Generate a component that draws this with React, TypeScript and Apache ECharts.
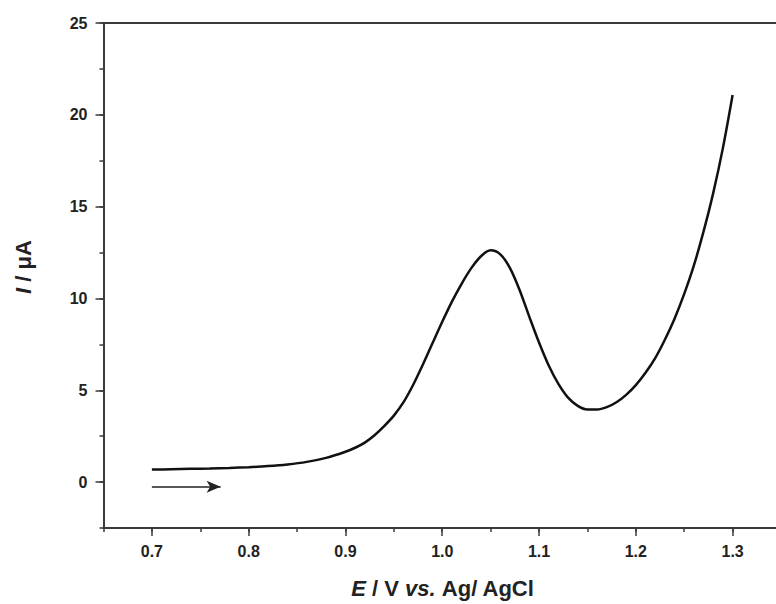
import React, { useEffect, useRef } from "react";
import * as echarts from "echarts";

const potentials = [
  0.7, 0.72, 0.74, 0.76, 0.78, 0.8, 0.82, 0.84, 0.86, 0.88, 0.9, 0.91, 0.92,
  0.93, 0.94, 0.95, 0.96, 0.97, 0.98, 0.99, 1.0, 1.01, 1.02, 1.03, 1.04, 1.05,
  1.06, 1.07, 1.08, 1.09, 1.1, 1.11, 1.12, 1.13, 1.14, 1.15, 1.16, 1.17, 1.18,
  1.19, 1.2, 1.21, 1.22, 1.23, 1.24, 1.25, 1.26, 1.27, 1.28, 1.29, 1.3,
];
const currents = [
  0.68, 0.7, 0.72, 0.74, 0.77, 0.81, 0.87, 0.96, 1.1, 1.32, 1.65, 1.87, 2.15,
  2.55, 3.05, 3.62, 4.35, 5.3, 6.4, 7.57, 8.73, 9.83, 10.8, 11.65, 12.3, 12.62,
  12.4, 11.65, 10.45, 9.0, 7.6, 6.35, 5.35, 4.6, 4.15, 3.95, 3.95, 4.08, 4.35,
  4.75, 5.28, 5.95, 6.75, 7.75, 8.9, 10.25, 11.8, 13.65, 15.75, 18.2, 21.08,
];
const xMajorTicks = [0.7, 0.8, 0.9, 1.0, 1.1, 1.2, 1.3];
const yMajorTicks = [0, 5, 10, 15, 20, 25];
const arrowStart = [0.7, -0.25];
const arrowEnd = [0.771, -0.25];

const FONT = "'Liberation Sans', Arial, sans-serif";
const AX = "#3a3a3a";
const TXT = "#222";

export default function App() {
  const ref = useRef<HTMLDivElement>(null);
  useEffect(() => {
    if (!ref.current) return;
    const chart = echarts.init(ref.current, undefined, { renderer: "svg" });
    const labelStyle = {
      fontFamily: FONT,
      fontWeight: "bold" as const,
      fontSize: 16,
      color: TXT,
    };
    chart.setOption({
      animation: false,
      backgroundColor: "#fff",
      grid: {
        left: 103.5,
        top: 23,
        right: 0,
        bottom: 76,
        show: false,
      },
      xAxis: [
        {
          type: "value",
          min: 0.65,
          max: 1.35,
          interval: 0.05,
          axisLine: { show: true, onZero: false, lineStyle: { color: AX, width: 2 } },
          axisTick: { show: true, length: 4, lineStyle: { color: AX, width: 1.5 } },
          axisLabel: { show: false },
          splitLine: { show: false },
        },
        {
          type: "value",
          position: "bottom",
          min: 0.65,
          max: 1.35,
          axisLine: { show: false, onZero: false },
          axisTick: {
            show: true,
            length: 8,
            customValues: xMajorTicks,
            lineStyle: { color: AX, width: 1.5 },
          },
          axisLabel: {
            show: true,
            margin: 15,
            customValues: xMajorTicks,
            formatter: (v: number) => v.toFixed(1),
            ...labelStyle,
          },
          splitLine: { show: false },
        },
        {
          type: "value",
          position: "top",
          min: 0.65,
          max: 1.35,
          axisLine: { show: true, onZero: false, lineStyle: { color: AX, width: 2 } },
          axisTick: { show: false },
          axisLabel: { show: false },
          splitLine: { show: false },
        },
      ],
      yAxis: [
        {
          type: "value",
          min: -2.5,
          max: 25,
          interval: 2.5,
          axisLine: { show: true, onZero: false, lineStyle: { color: AX, width: 2 } },
          axisTick: { show: true, length: 4, lineStyle: { color: AX, width: 1.5 } },
          axisLabel: { show: false },
          splitLine: { show: false },
        },
        {
          type: "value",
          position: "left",
          min: -2.5,
          max: 25,
          axisLine: { show: false, onZero: false },
          axisTick: {
            show: true,
            length: 8,
            customValues: yMajorTicks,
            lineStyle: { color: AX, width: 1.5 },
          },
          axisLabel: {
            show: true,
            margin: 16,
            customValues: yMajorTicks,
            formatter: (v: number) => String(v),
            ...labelStyle,
          },
          splitLine: { show: false },
        },
      ],
      graphic: [
        {
          type: "text",
          x: 443,
          y: 588,
          style: {
            text: "{i|E} / V {i|vs.} Ag/ AgCl",
            fontFamily: FONT,
            fontWeight: "bold",
            fontSize: 22,
            fill: TXT,
            align: "center",
            verticalAlign: "middle",
            rich: {
              i: { fontStyle: "italic", fontFamily: FONT, fontWeight: "bold", fontSize: 22, fill: TXT },
            },
          },
        },
        {
          type: "text",
          x: 23,
          y: 267,
          rotation: Math.PI / 2,
          style: {
            text: "{i|I} / μA",
            fontFamily: FONT,
            fontWeight: "bold",
            fontSize: 22,
            fill: TXT,
            align: "center",
            verticalAlign: "middle",
            rich: {
              i: { fontStyle: "italic", fontFamily: FONT, fontWeight: "bold", fontSize: 22, fill: TXT },
            },
          },
        },
      ],
      series: [
        {
          type: "line",
          xAxisIndex: 0,
          yAxisIndex: 0,
          data: potentials.map((e, i) => [e, currents[i]]),
          smooth: 0.3,
          showSymbol: false,
          silent: true,
          lineStyle: { color: "#111", width: 2.5 },
          markLine: {
            silent: true,
            symbol: ["none", "arrow"],
            symbolSize: [9, 14],
            label: { show: false },
            lineStyle: { color: "#222", width: 1.5, type: "solid" },
            data: [[{ coord: arrowStart }, { coord: arrowEnd }]],
          },
        },
      ],
    });
    return () => chart.dispose();
  }, []);
  return (
    <div
      style={{
        position: "fixed",
        left: 0,
        top: 0,
        width: 776,
        height: 604,
        overflow: "hidden",
        background: "#fff",
      }}
    >
      <div ref={ref} style={{ width: 781, height: 604 }} />
    </div>
  );
}
